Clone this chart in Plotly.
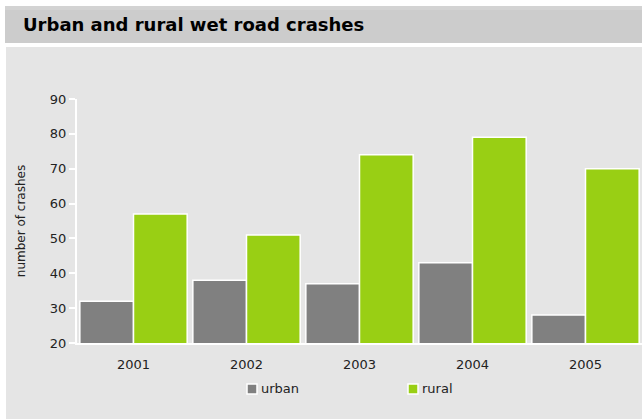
import plotly.graph_objects as go

years = ["2001", "2002", "2003", "2004", "2005"]
urban = [32, 38, 37, 43, 28]
rural = [57, 51, 74, 79, 70]
series_names = ["urban", "rural"]
colors = ["#808080", "#99cf14"]

W, H = 642, 419
L, R, T, B = 77, 0, 99, 76
pw, ph = W - L - R, H - T - B

def px(x):
    return (x - L) / pw

def py(y):
    return (H - B - y) / ph

FONT = "DejaVu Sans"

fig = go.Figure()
for name, vals, col in zip(series_names, [urban, rural], colors):
    fig.add_trace(go.Bar(x=years, y=vals, name=name, marker=dict(color=col, line=dict(color="white", width=1.5)),
                         showlegend=False))

shapes = [
    dict(type="rect", xref="paper", yref="paper", x0=px(6), x1=px(642), y0=py(419), y1=py(47),
         fillcolor="#e5e5e5", line=dict(width=0), layer="below"),
    dict(type="rect", xref="paper", yref="paper", x0=px(5), x1=px(642), y0=py(43), y1=py(6),
         fillcolor="#cccccc", line=dict(width=0), layer="below"),
    dict(type="rect", xref="paper", yref="paper", x0=px(5), x1=px(642), y0=py(10), y1=py(6),
         fillcolor="#d3d3d3", line=dict(width=0), layer="below"),
]
annotations = [
    dict(text="<b>Urban and rural wet road crashes</b>", xref="paper", yref="paper", x=px(21), y=py(24),
         xanchor="left", yanchor="middle", showarrow=False, font=dict(family=FONT, size=18, color="#000000")),
]

# manual legend
leg_x = [247, 408]
for name, col, lx in zip(series_names, colors, leg_x):
    shapes.append(dict(type="rect", xref="paper", yref="paper", x0=px(lx), x1=px(lx + 10), y0=py(394), y1=py(384),
                       fillcolor=col, line=dict(color="white", width=1.5)))
    annotations.append(dict(text=name, xref="paper", yref="paper", x=px(lx + 12), y=py(389), xanchor="left",
                            yanchor="middle", showarrow=False, font=dict(family=FONT, size=13, color="#222222")))

fig.update_layout(
    width=W, height=H,
    margin=dict(l=L, r=R, t=T, b=B),
    paper_bgcolor="white", plot_bgcolor="rgba(0,0,0,0)",
    barmode="group", bargap=0.05, bargroupgap=0.0,
    font=dict(family=FONT, size=13, color="#222222"),
    shapes=shapes, annotations=annotations,
    xaxis=dict(type="category", showgrid=False, showline=True, linecolor="white", linewidth=2,
               ticks="outside", ticklen=8, tickcolor="rgba(0,0,0,0)", tickfont=dict(size=13), zeroline=False),
    yaxis=dict(range=[20, 90], dtick=10, showgrid=False, showline=True, linecolor="white", linewidth=2,
               ticks="outside", ticklen=6, tickcolor="white", tickwidth=1.5, tickfont=dict(size=13),
               zeroline=False,
               title=dict(text="number of crashes", font=dict(size=12), standoff=22)),
)

fig.write_html("out.html")
